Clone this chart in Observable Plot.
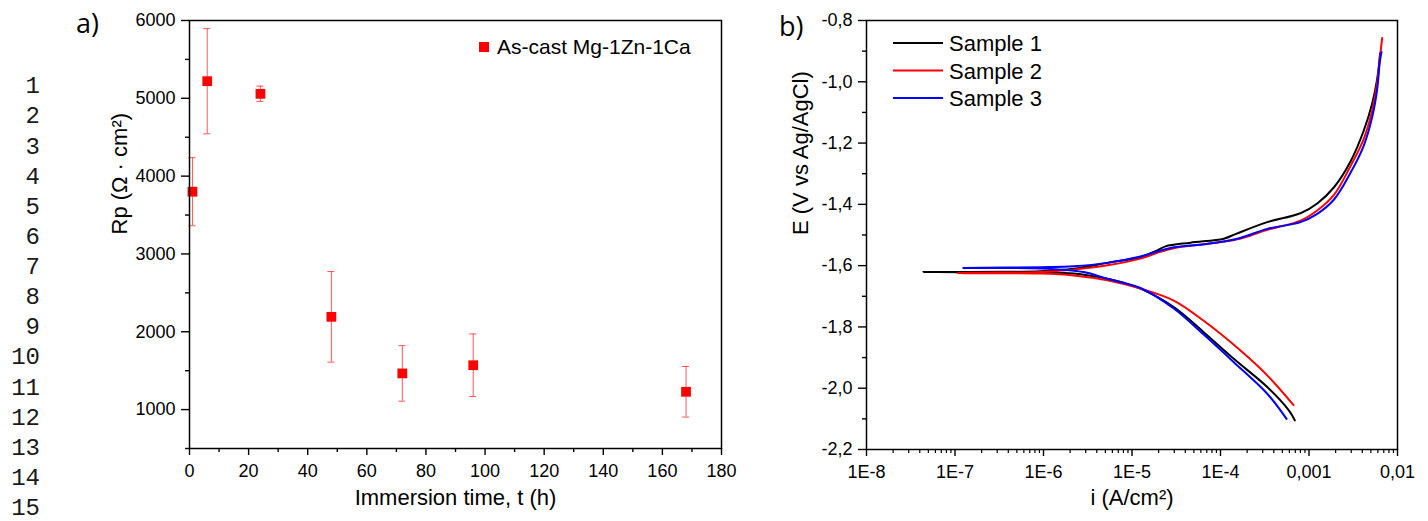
<!DOCTYPE html>
<html>
<head>
<meta charset="utf-8">
<script src="https://cdn.jsdelivr.net/npm/d3@7"></script>
<script src="https://cdn.jsdelivr.net/npm/@observablehq/plot@0.6"></script>
<style>
  html, body { margin: 0; padding: 0; background: #ffffff; }
  #page { position: relative; width: 1428px; height: 521px; overflow: hidden; background: #ffffff; }
  #page > svg { position: absolute; top: 0; }
</style>
</head>
<body>
<div id="page"></div>
<script>
// ---------- Panel a) data ----------
const times = [1, 6, 24, 48, 72, 96, 168];
const rpValues = [3800, 5220, 5058, 2192, 1465, 1570, 1229];
const rpErrors = [437, 676, 98, 582, 357, 402, 325];
const timeTicks = [0, 20, 40, 60, 80, 100, 120, 140, 160, 180];
const timeMinorTicks = [10, 30, 50, 70, 90, 110, 130, 150, 170];
const rpTicks = [1000, 2000, 3000, 4000, 5000, 6000];
const rpMinorTicks = [500, 1500, 2500, 3500, 4500, 5500];
const seriesA = "As-cast Mg-1Zn-1Ca";

// ---------- Panel b) data ----------
const sampleNames = ["Sample 1", "Sample 2", "Sample 3"];
const sampleColors = ["#000000", "#ff0000", "#0000ff"];
// log10 of current density (A/cm²) and potential (V vs Ag/AgCl), in scan order
const sample1LogI = [-3.160, -3.190, -3.228, -3.472, -3.850, -4.190, -4.528, -4.904, -5.093, -5.280, -5.658, -6.034, -6.486, -7.359,
                     -6.486, -6.034, -5.658, -5.280, -4.904, -4.715, -4.621, -4.339, -3.963, -3.830, -3.472, -3.096, -2.907, -2.720, -2.531, -2.381, -2.286, -2.229, -2.197];
const sample1E    = [-2.105, -2.089, -2.072, -1.996, -1.904, -1.817, -1.735, -1.675, -1.656, -1.643, -1.626, -1.623, -1.622, -1.621,
                     -1.620, -1.618, -1.610, -1.591, -1.572, -1.550, -1.537, -1.525, -1.512, -1.497, -1.458, -1.429, -1.397, -1.345, -1.260, -1.159, -1.071, -0.990, -0.907];
const sample2LogI = [-3.175, -3.472, -3.774, -4.190, -4.528, -4.904, -5.280, -5.658, -6.034, -6.712, -6.975,
                     -6.712, -6.034, -5.658, -5.280, -4.904, -4.715, -4.528, -4.190, -3.810, -3.472, -3.096, -2.907, -2.720, -2.531, -2.381, -2.286, -2.229, -2.195, -2.173];
const sample2E    = [-2.055, -1.958, -1.877, -1.780, -1.714, -1.675, -1.648, -1.632, -1.626, -1.625, -1.624,
                     -1.623, -1.621, -1.613, -1.599, -1.577, -1.558, -1.543, -1.530, -1.514, -1.483, -1.453, -1.420, -1.370, -1.275, -1.186, -1.094, -1.000, -0.912, -0.857];
const sample3LogI = [-3.254, -3.472, -3.850, -4.190, -4.528, -4.904, -5.280, -5.545, -6.034, -6.907,
                     -6.034, -5.658, -5.280, -4.904, -4.715, -4.528, -4.150, -3.810, -3.472, -3.096, -2.907, -2.720, -2.531, -2.381, -2.286, -2.229, -2.200, -2.181];
const sample3E    = [-2.100, -2.018, -1.915, -1.825, -1.740, -1.673, -1.643, -1.621, -1.609, -1.608,
                     -1.605, -1.602, -1.591, -1.570, -1.554, -1.540, -1.529, -1.512, -1.480, -1.458, -1.431, -1.385, -1.297, -1.208, -1.115, -1.023, -0.935, -0.903];
const currentTicks = [1e-8, 1e-7, 1e-6, 1e-5, 1e-4, 1e-3, 1e-2];
const currentTickLabels = ["1E-8", "1E-7", "1E-6", "1E-5", "1E-4", "0,001", "0,01"];
const currentMinorMultipliers = [2, 3, 4, 5, 6, 7, 8, 9];
const potentialTicks = [-2.2, -2.0, -1.8, -1.6, -1.4, -1.2, -1.0, -0.8];
const potentialTickLabels = ["-2,2", "-2,0", "-1,8", "-1,6", "-1,4", "-1,2", "-1,0", "-0,8"];
const potentialMinorTicks = [-2.1, -1.9, -1.7, -1.5, -1.3, -1.1, -0.9];

// ---------- page text ----------
const lineNumbers = ["1","2","3","4","5","6","7","8","9","10","11","12","13","14","15"];

const FONT = "'Liberation Sans', Arial, sans-serif";
const TICK_FS = 18;
const TITLE_FS = 22;
const page = document.getElementById("page");

// ---------- Panel a ----------
const rpData = times.map((t, k) => ({t, rp: rpValues[k], lo: rpValues[k] - rpErrors[k], hi: rpValues[k] + rpErrors[k]}));
const errStyle = {stroke: "#ff3030", strokeOpacity: 0.8, strokeWidth: 1};
const left = Plot.plot({
  width: 740, height: 521,
  marginLeft: 189, marginRight: 19, marginTop: 20, marginBottom: 73,
  style: {fontFamily: FONT, fontSize: TICK_FS + "px", color: "#000", background: "#ffffff", overflow: "visible"},
  x: {domain: [0, 180]},
  y: {domain: [500, 6000]},
  marks: [
    Plot.axisX({ticks: timeTicks, tickFormat: d => String(d), tickSize: 7, tickPadding: 9, strokeWidth: 1.4, label: null, fontSize: TICK_FS}),
    Plot.axisX({ticks: timeMinorTicks, tickSize: 4, strokeWidth: 1.4, fill: "none", label: null}),
    Plot.axisY({ticks: rpTicks, tickFormat: d => String(d), tickSize: 8, tickPadding: 6, strokeWidth: 1.4, label: null, fontSize: TICK_FS}),
    Plot.axisY({ticks: rpMinorTicks, tickSize: 4, strokeWidth: 1.4, fill: "none", label: null}),
    Plot.ruleX(rpData, {x: "t", y1: "lo", y2: "hi", ...errStyle}),
    Plot.ruleY(rpData, {y: "hi", x1: "t", x2: "t", insetLeft: -3.5, insetRight: -3.5, ...errStyle}),
    Plot.ruleY(rpData, {y: "lo", x1: "t", x2: "t", insetLeft: -3.5, insetRight: -3.5, ...errStyle}),
    Plot.dot(rpData, {x: "t", y: "rp", symbol: "square", r: 5.5, fill: "#ff0000", stroke: null}),
    Plot.frame({stroke: "#000", strokeWidth: 1.5}),
    Plot.text(["Rp (Ω · cm²)"], {frameAnchor: "left", dx: -70, rotate: -90, fontSize: TITLE_FS}),
    Plot.text(["Immersion time, t (h)"], {frameAnchor: "bottom", dy: 56, fontSize: TITLE_FS})
  ]
});
left.style.left = "0px";
page.appendChild(left);

// ---------- Panel b ----------
const curveRows = [];
[[sample1LogI, sample1E], [sample2LogI, sample2E], [sample3LogI, sample3E]].forEach(([li, es], s) => {
  li.forEach((v, j) => curveRows.push({sample: sampleNames[s], i: Math.pow(10, v), E: es[j]}));
});
const currentMinorTicks = currentTicks.slice(0, -1).flatMap(d => currentMinorMultipliers.map(m => d * m));
const right = Plot.plot({
  width: 688, height: 521,
  marginLeft: 126, marginRight: 31, marginTop: 20, marginBottom: 72,
  style: {fontFamily: FONT, fontSize: TICK_FS + "px", color: "#000", background: "#ffffff", overflow: "visible"},
  x: {type: "log", domain: [1e-8, 1e-2]},
  y: {domain: [-2.2, -0.8]},
  color: {domain: sampleNames, range: sampleColors},
  marks: [
    Plot.axisX({ticks: currentTicks, tickFormat: d => currentTickLabels[currentTicks.indexOf(d)], tickSize: 7, tickPadding: 9, strokeWidth: 1.4, label: null, fontSize: TICK_FS}),
    Plot.axisX({ticks: currentMinorTicks, tickSize: 4, strokeWidth: 1.2, fill: "none", label: null}),
    Plot.axisY({ticks: potentialTicks, tickFormat: d => potentialTickLabels[potentialTicks.indexOf(d)], tickSize: 8, tickPadding: 6, strokeWidth: 1.4, label: null, fontSize: TICK_FS}),
    Plot.axisY({ticks: potentialMinorTicks, tickSize: 4, strokeWidth: 1.4, fill: "none", label: null}),
    Plot.line(curveRows, {x: "i", y: "E", z: "sample", stroke: "sample", strokeWidth: 2, curve: "catmull-rom"}),
    Plot.frame({stroke: "#000", strokeWidth: 1.5}),
    Plot.text(["E (V vs Ag/AgCl)"], {frameAnchor: "left", dx: -66, rotate: -90, fontSize: TITLE_FS}),
    Plot.text(["i (A/cm²)"], {frameAnchor: "bottom", dy: 55, fontSize: TITLE_FS})
  ]
});
right.style.left = "740px";
page.appendChild(right);

// ---------- overlay: panel letters, legends, line numbers ----------
const overlay = d3.create("svg")
  .attr("width", 1428).attr("height", 521)
  .style("left", "0px").style("pointer-events", "none");

overlay.append("text").attr("x", 76).attr("y", 33)
  .attr("font-family", "'Open Sans', sans-serif").attr("font-size", 27).attr("fill", "#000").text("a)");
overlay.append("text").attr("x", 779).attr("y", 36)
  .attr("font-family", "'Open Sans', sans-serif").attr("font-size", 27).attr("fill", "#000").text("b)");

// legend a
overlay.append("rect").attr("x", 479).attr("y", 42).attr("width", 10).attr("height", 10).attr("fill", "#ff0000");
overlay.append("text").attr("x", 497).attr("y", 54)
  .attr("font-family", FONT).attr("font-size", 21).attr("fill", "#000").text(seriesA);

// legend b
sampleNames.forEach((name, k) => {
  const yc = 43 + k * 27.5;
  overlay.append("line").attr("x1", 893).attr("x2", 943).attr("y1", yc).attr("y2", yc)
    .attr("stroke", sampleColors[k]).attr("stroke-width", 2);
  overlay.append("text").attr("x", 949).attr("y", yc + 8)
    .attr("font-family", FONT).attr("font-size", 22).attr("fill", "#000").text(name);
});

// line numbers
lineNumbers.forEach((n, k) => {
  overlay.append("text").attr("x", 40).attr("y", 93.3 + k * 30.12)
    .attr("text-anchor", "end")
    .attr("font-family", "'Liberation Mono', monospace").attr("font-size", 24).attr("fill", "#1a1a1a").text(n);
});

page.appendChild(overlay.node());
</script>
</body>
</html>
